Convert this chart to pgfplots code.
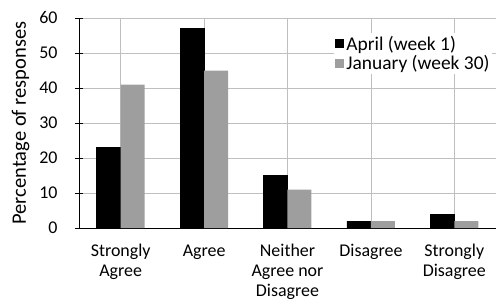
\documentclass[border=0pt]{standalone}
\usepackage{pgfplots}
\pgfplotsset{compat=1.18}
\usepackage{fontspec}
\setmainfont{Carlito}
\definecolor{jan}{RGB}{158,158,158}
\definecolor{grid}{RGB}{90,90,90}
\begin{document}
\begin{tikzpicture}
\path[use as bounding box] (-79bp,-73bp) rectangle (417bp,228bp);
\begin{axis}[
  at={(0,0)}, anchor=south west,
  scale only axis,
  width=417bp, height=210bp,
  ymin=0, ymax=60, ytick={0,10,...,60},
  xmin=-0.5, xmax=4.5,
  xtick={0,...,4},
  xticklabels={{Strongly\\Agree},Agree,{Neither\\Agree nor\\Disagree},Disagree,{Strongly\\Disagree}},
  xticklabel style={align=center, font=\fontsize{18}{19.8}\selectfont, yshift=-5bp},
  major x tick style={draw=none},
  extra x ticks={0.5,1.5,2.5,3.5},
  extra x tick labels={},
  extra x tick style={major tick length=5bp, tick style={draw=black, thin}, tick align=outside, grid=none},
  yticklabel style={font=\fontsize{18}{20}\selectfont, xshift=-14bp},
  /pgf/number format/assume math mode=true,
  ylabel={Percentage of responses},
  ylabel style={font=\fontsize{20.6}{22}\selectfont, yshift=3bp},
  ymajorgrids, grid style={grid, line width=0.6pt},
  axis x line*=bottom, axis y line*=left,
  axis line style={black, line width=0.8pt},
  ytick align=center, major tick length=8bp,
  ytick style={black},
  ybar=0pt, bar width=24bp,
  legend style={at={(0.612,0.93)}, anchor=north west, draw=none, fill=white,
    font=\fontsize{19.5}{21.5}\selectfont, legend cell align=left, inner xsep=1bp, inner ysep=1bp, row sep=0bp,
    /tikz/every odd column/.style={column sep=0bp}},
  legend image code/.code={\draw[#1, draw=none] (0cm,-0.16cm) rectangle (0.32cm,0.16cm);},
  clip=false,
]
\addplot[fill=black, draw=black] coordinates {(0,23) (1,57) (2,15) (3,2) (4,4)};
\addplot[fill=jan, draw=none] coordinates {(0,41) (1,45) (2,11) (3,2) (4,2)};
\legend{April (week 1),January (week 30)}
\end{axis}
\end{tikzpicture}
\end{document}
